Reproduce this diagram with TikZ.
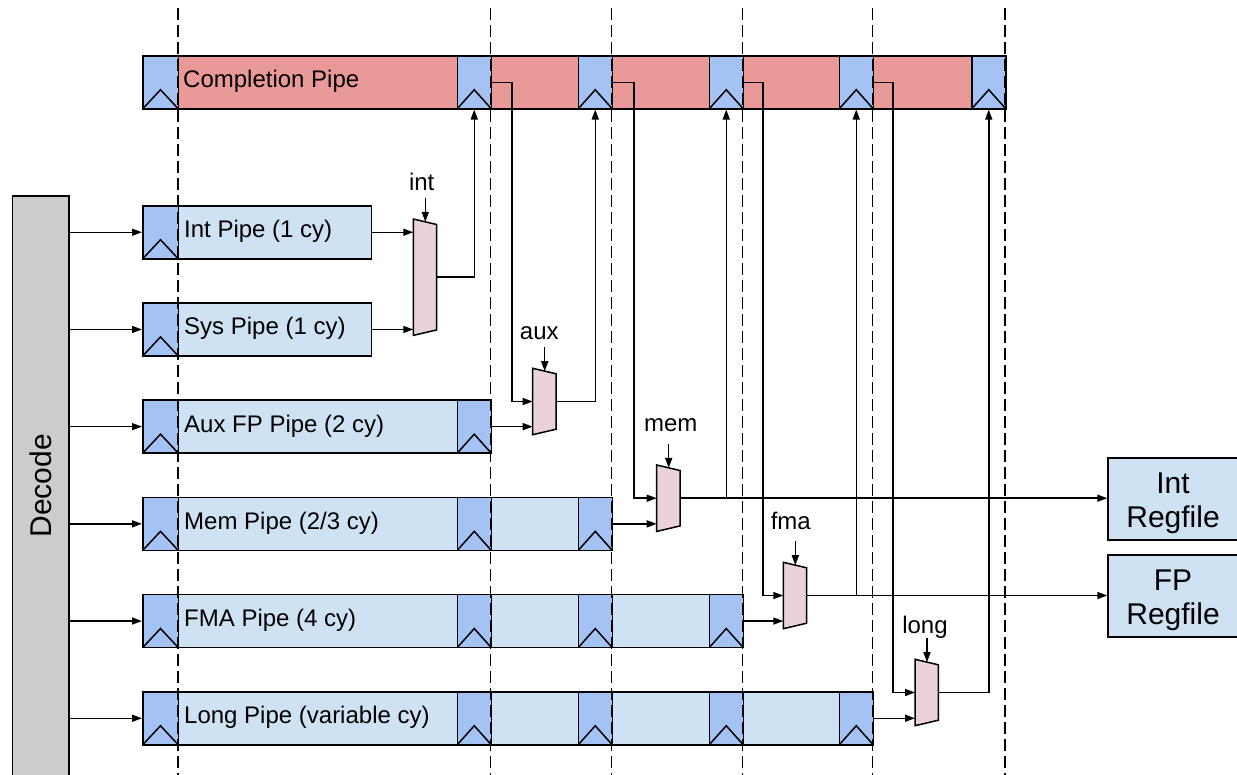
\documentclass[tikz,border=0pt]{standalone}
\usepackage{fontspec}
\setmainfont{Liberation Sans}
\usetikzlibrary{arrows.meta,calc}

\definecolor{cpink}{HTML}{EA9999}
\definecolor{regblue}{HTML}{A4C2F4}
\definecolor{pipeblue}{HTML}{CFE2F3}
\definecolor{muxpink}{HTML}{EAD1DC}
\definecolor{decgray}{HTML}{CCCCCC}

\newcommand\lblfont{\fontsize{24}{28}\selectfont}
\newcommand\bigfont{\fontsize{30}{34.5}\selectfont}

% mux: name, left x, top-left y, height of the tall (left) edge
\newcommand\drawmux[4]{%
  \node[muxbox, minimum height=#4pt] (#1) at (#2,#3) {};
  \draw[lw, fill=muxpink] (#1.north west) -- ([yshift=-5.5pt]#1.north east)
    -- ([yshift=5.5pt]#1.south east) -- (#1.south west) -- cycle;}

% select label above a mux: mux name, text, label x, label baseline y
\newcommand\muxctl[4]{%
  \node[lbl, anchor=base] (#1lbl) at (#3,#4) {#2};
  \coordinate (#1ctl) at ($(#1.north west)+(12,-21)$);
  \draw[arr] (#1ctl) -- ([xshift=12pt,yshift=-2.9pt]#1.north west);}

\begin{document}
\begin{tikzpicture}[x=1pt,y=-1pt,
  every node/.style={inner sep=0pt},
  lw/.style={line width=1.5pt},
  arr/.style={lw, -{Triangle[length=10pt,width=7pt]}},
  lbl/.style={font=\lblfont},
  pipebox/.style={draw, lw, fill=pipeblue, minimum height=53pt, anchor=north west},
  reg/.style={draw, lw, fill=regblue, minimum width=#1, minimum height=53pt,
    anchor=north west,
    path picture={\draw[lw] (path picture bounding box.south west)
      -- ([yshift=19pt]path picture bounding box.south)
      -- (path picture bounding box.south east);}},
  reg/.default=34pt,
  muxbox/.style={minimum width=23pt, anchor=north west},
  rfbox/.style={draw, lw, fill=pipeblue, minimum width=130pt, minimum height=81.7pt,
    anchor=north west, align=center, font=\bigfont},
  cycleline/.style={lw, dash pattern=on 12pt off 5pt}]

\fill[white] (0,0) rectangle (1237,774);
\useasboundingbox (0,0) rectangle (1237,774);

% decode stage
\node[draw, lw, fill=decgray, minimum width=56.6pt, minimum height=580pt,
  anchor=north west] (dec) at (11.7,195) {};
\node[rotate=90, font=\bigfont] (dectxt) at (dec.center) {Decode};

% completion pipe with its six stage registers
\node[draw, lw, fill=cpink, minimum width=863pt, minimum height=53pt,
  anchor=north west] (comp) at (142,55) {};
\foreach \c in {1,...,6} {
  \pgfmathsetmacro\cx{{142,456.5,577.5,708.5,838.5,971}[\c-1]}
  \pgfmathsetmacro\cw{\c==1 ? 35.5 : 34}
  \node[reg=\cw pt] (c\c) at (\cx,55) {};
}
\node[lbl, anchor=west] (tcomp) at (183,81.5) {Completion Pipe};

% execution pipes and their stage registers
\foreach \row/\top/\right/\n in {int/205/370.7/1, sys/302.2/370.7/1,
    aux/399.4/490.5/2, mem/496.6/611.5/3, fma/593.8/742.5/4, long/691/872.5/5} {
  \pgfmathsetmacro\w{\right-142}
  \node[pipebox, minimum width=\w pt] (p\row) at (142,\top) {};
  \foreach \c in {1,...,\n} {
    \pgfmathsetmacro\cx{{142,456.5,577.5,708.5,838.5,971}[\c-1]}
    \pgfmathsetmacro\cw{\c==1 ? 35.5 : 34}
    \node[reg=\cw pt] (r\row\c) at (\cx,\top) {};
  }
  \draw[arr] (dec.east |- r\row1.west) -- (r\row1.west);
}
\node[lbl, anchor=west] (tint)  at (184,231.5) {Int Pipe (1 cy)};
\node[lbl, anchor=west] (tsys)  at (184,328.7) {Sys Pipe (1 cy)};
\node[lbl, anchor=west] (taux)  at (184,425.9) {Aux FP Pipe (2 cy)};
\node[lbl, anchor=west] (tmem)  at (184,523.1) {Mem Pipe (2/3 cy)};
\node[lbl, anchor=west] (tfma)  at (184,620.3) {FMA Pipe (4 cy)};
\node[lbl, anchor=west] (tlong) at (184,717.5) {Long Pipe (variable cy)};

% register files
\node[rfbox] (irf) at (1107.3,457.3) {\rule{0pt}{29.5pt}Int\\Regfile};
\node[rfbox] (frf) at (1107.3,554.3) {\rule{0pt}{29.5pt}FP\\Regfile};

% writeback muxes
\drawmux{mint}{413.3}{219}{116}
\drawmux{maux}{532.7}{368.3}{66}
\drawmux{mmem}{656.7}{465}{66}
\drawmux{mfma}{783.3}{562.3}{66}
\drawmux{mlong}{915}{659.3}{66}

\muxctl{mint}{int}{421.7}{190.7}
\muxctl{maux}{aux}{539.3}{339}
\muxctl{mmem}{mem}{670.7}{431.7}
\muxctl{mfma}{fma}{790.8}{529.3}
\muxctl{mlong}{long}{925}{633.3}

% taps from the completion pipe
\coordinate (tapaux)  at (512,0);
\coordinate (tapmem)  at (634,0);
\coordinate (tapfma)  at (763,0);
\coordinate (taplong) at (893,0);

% int mux
\draw[arr] (pint.east) -- (pint.east -| mint.west);
\draw[arr] (psys.east) -- (psys.east -| mint.west);
\draw[arr] (mint.east) -| (c2.south);
% aux mux
\draw[arr] (c2.east) -| (tapaux |- maux.west) -- (maux.west);
\draw[arr] (paux.east) -- (paux.east -| maux.west);
\draw[arr] (maux.east) -| (c3.south);
% mem mux
\draw[arr] (c3.east) -| (tapmem |- mmem.west) -- (mmem.west);
\draw[arr] (pmem.east) -- (pmem.east -| mmem.west);
\draw[arr] (mmem.east) -| (c4.south);
\draw[arr] (mmem.east) -- (mmem.east -| irf.west);
% fma mux
\draw[arr] (c4.east) -| (tapfma |- mfma.west) -- (mfma.west);
\draw[arr] (pfma.east) -- (pfma.east -| mfma.west);
\draw[arr] (mfma.east) -| (c5.south);
\draw[arr] (mfma.east) -- (mfma.east -| frf.west);
% long mux
\draw[arr] (c5.east) -| (taplong |- mlong.west) -- (mlong.west);
\draw[arr] (plong.east) -- (plong.east -| mlong.west);
\draw[arr] (mlong.east) -| (c6.south);

% cycle boundaries
\foreach \x in {178,490.5,611.5,742.5,872.5,1005}
  \draw[cycleline] (\x,8) -- (\x,776);

\end{tikzpicture}
\end{document}
